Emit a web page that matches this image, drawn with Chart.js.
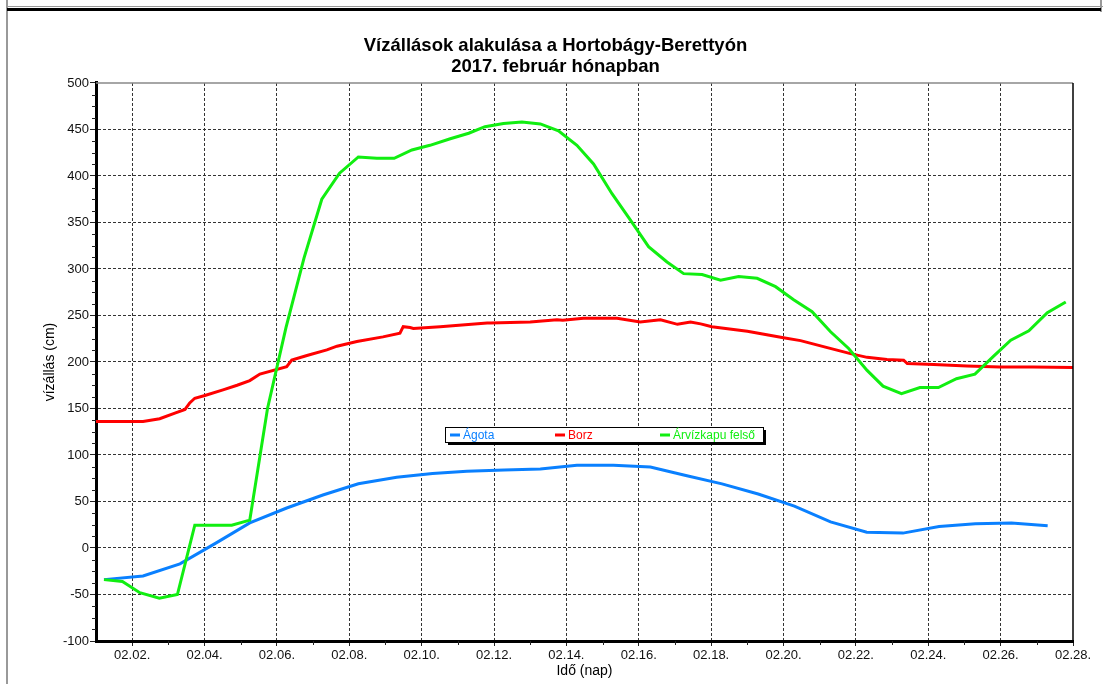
<!DOCTYPE html>
<html>
<head>
<meta charset="utf-8">
<title>Vízállások alakulása a Hortobágy-Berettyón</title>
<script src="https://cdn.jsdelivr.net/npm/chart.js@4.4.1/dist/chart.umd.min.js"></script>
<style>
  body { margin: 0; background: #fff; }
  #myChart { display: block; }
</style>
</head>
<body>
<canvas id="myChart" width="1103" height="684"></canvas>
<script>
// tick labels / axis values
const xTickDays = [2, 4, 6, 8, 10, 12, 14, 16, 18, 20, 22, 24, 26, 28];
const yTickValues = [-100, -50, 0, 50, 100, 150, 200, 250, 300, 350, 400, 450, 500];

const titleLines = ["Vízállások alakulása a Hortobágy-Berettyón", "2017. február hónapban"];

// Ágota (day of february, cm)
const agotaDays = [1.22, 2.3, 3.32, 4.3, 5.25, 6.27, 7.27, 8.25, 9.31, 10.3, 11.25, 12.28, 13.28, 14.29,
  15.3, 16.32, 17.3, 18.3, 19.3, 20.3, 21.3, 22.3, 23.3, 24.3, 25.3, 26.3, 27.3];
const agotaLevels = [-34, -30, -17, 5, 27, 43, 57, 69, 76, 80, 82.5, 84, 85, 89,
  89, 87, 78, 69, 58, 45, 28, 17, 16, 23, 26, 27, 24];

// Borz
const borzDays = [1.0, 2.3, 2.76, 3.18, 3.46, 3.59, 3.73, 4.01, 4.51, 4.9, 5.25, 5.53, 6.27, 6.41, 6.83,
  7.38, 7.66, 8.21, 8.93, 9.4, 9.49, 9.68, 9.77, 10.51, 11.81, 11.9, 13.0, 13.74, 13.9, 14.47,
  15.4, 16.04, 16.6, 17.07, 17.43, 17.71, 18.02, 19.0, 20.0, 20.47, 21.21, 21.85, 22.31, 22.86,
  23.32, 23.42, 24.15, 25.07, 25.98, 26.89, 28.0];
const borzLevels = [136, 136, 139, 145, 149, 156, 161, 164, 170, 175, 180, 187, 195, 202, 207,
  213, 217, 222, 227, 231, 238, 237, 236, 238, 242, 242, 243, 245.5, 245, 247,
  247, 243, 245.5, 240.5, 243, 241, 238, 233, 226, 223, 215.5, 209, 205, 202.6,
  202, 198.4, 197.3, 195.8, 194.7, 194.7, 194];

// Árvízkapu felső
const arvizDays = [1.22, 1.73, 2.21, 2.75, 3.25, 3.73, 4.25, 4.75, 5.25, 5.74, 6.25, 6.75, 7.24, 7.73,
  8.25, 8.76, 9.24, 9.73, 10.23, 10.79, 11.3, 11.75, 12.26, 12.77, 13.28, 13.78, 14.29, 14.75,
  15.26, 15.77, 16.27, 16.78, 17.24, 17.75, 18.26, 18.76, 19.27, 19.78, 20.28, 20.79, 21.3, 21.8,
  22.31, 22.75, 23.26, 23.77, 24.28, 24.78, 25.29, 25.8, 26.28, 26.78, 27.29, 27.8];
const arvizLevels = [-34, -36, -48, -54, -50, 24.5, 24.5, 24.5, 30, 150, 237, 312, 375, 403,
  420.5, 419, 419, 428, 433, 440, 446, 453, 456.5, 458, 456, 448.5, 433, 413,
  381, 352.5, 324, 307.5, 295, 294, 288, 292, 290, 281, 267, 254, 232.5, 214.5,
  191, 174, 166, 172.5, 172.5, 182, 187, 206, 223.5, 233.5, 253, 264.5];

const FONT = "'Liberation Sans', Arial, sans-serif";
Chart.defaults.font.family = FONT;
Chart.defaults.color = '#111';

function toPoints(days, levels) {
  return days.map((d, i) => ({ x: d, y: levels[i] }));
}

// white page, outer frame lines, plot border
const framePlugin = {
  id: 'frame',
  beforeDraw(chart) {
    const c = chart.ctx;
    c.save();
    c.fillStyle = '#fff';
    c.fillRect(0, 0, chart.width, chart.height);
    c.fillStyle = '#999';
    c.fillRect(6, 0, 2, chart.height);
    c.fillRect(7, 6, 1096, 1);
    c.fillRect(1100, 0, 2, 12);
    c.fillStyle = '#000';
    c.fillRect(7, 8, 1094, 3);
    c.restore();
  },
  afterDraw(chart) {
    const c = chart.ctx;
    const a = chart.chartArea;
    const x = chart.scales.x;
    const y = chart.scales.y;
    c.save();
    // top and right border
    c.lineWidth = 1.5;
    c.strokeStyle = '#888';
    c.beginPath(); c.moveTo(a.left, a.top); c.lineTo(a.right, a.top); c.stroke();
    c.strokeStyle = '#000';
    c.beginPath(); c.moveTo(a.right, a.top); c.lineTo(a.right, a.bottom); c.stroke();
    // minor ticks
    c.lineWidth = 1;
    c.strokeStyle = '#222';
    for (let v = -100; v <= 500; v += 12.5) {
      if (v % 50 === 0) continue;
      const py = Math.round(y.getPixelForValue(v)) + 0.5;
      c.beginPath(); c.moveTo(a.left - 4, py); c.lineTo(a.left, py); c.stroke();
    }
    for (let d = 3; d < 28; d += 2) {
      const px = Math.round(x.getPixelForValue(d)) + 0.5;
      c.beginPath(); c.moveTo(px, a.bottom); c.lineTo(px, a.bottom + 4); c.stroke();
    }
    c.restore();
  }
};

// legend box inside the plot
const legendPlugin = {
  id: 'boxLegend',
  afterDraw(chart) {
    const c = chart.ctx;
    const bx = 445, by = 427, bw = 318, bh = 15;
    c.save();
    c.fillStyle = '#000';
    c.fillRect(bx + 3, by + 3, bw, bh);
    c.fillStyle = '#fff';
    c.fillRect(bx, by, bw, bh);
    c.strokeStyle = '#000';
    c.lineWidth = 1;
    c.strokeRect(bx + 0.5, by + 0.5, bw, bh);
    const slots = [450, 555, 660];
    c.font = '12px ' + FONT;
    c.textBaseline = 'middle';
    chart.data.datasets.forEach((ds, i) => {
      const sx = slots[i];
      const cy = by + 8;
      c.strokeStyle = ds.borderColor;
      c.lineWidth = 3;
      c.beginPath(); c.moveTo(sx, cy); c.lineTo(sx + 10, cy); c.stroke();
      c.fillStyle = ds.borderColor;
      c.fillText(ds.label, sx + 13, cy + 1);
    });
    c.restore();
  }
};

const ctx = document.getElementById('myChart');

const myChart = new Chart(ctx, {
  type: 'line',
  data: {
    datasets: [
      { label: 'Ágota', data: toPoints(agotaDays, agotaLevels), borderColor: '#0a80ff', order: 3 },
      { label: 'Borz', data: toPoints(borzDays, borzLevels), borderColor: '#ff0000', order: 2 },
      { label: 'Árvízkapu felső', data: toPoints(arvizDays, arvizLevels), borderColor: '#11ee11', order: 1 }
    ]
  },
  options: {
    responsive: false,
    animation: false,
    elements: {
      line: { borderWidth: 3, tension: 0, fill: false },
      point: { radius: 0, hoverRadius: 0 }
    },
    layout: { padding: { left: 38, right: 30, top: 0, bottom: 0 } },
    plugins: {
      legend: { display: false },
      tooltip: { enabled: false },
      title: {
        display: true,
        text: titleLines,
        color: '#000',
        font: { size: 18.5, weight: 'bold', lineHeight: 1.135 },
        padding: { top: 35, bottom: 6 }
      }
    },
    scales: {
      x: {
        type: 'linear',
        min: 1,
        max: 28,
        afterBuildTicks: s => { s.ticks = xTickDays.map(v => ({ value: v })); },
        afterFit: s => { s.height = 43; },
        ticks: {
          autoSkip: false,
          maxRotation: 0,
          padding: 2,
          font: { size: 13 },
          callback: v => '02.' + String(v).padStart(2, '0') + '.'
        },
        grid: {
          color: c => (c.tick && c.tick.value === 28) ? 'rgba(0,0,0,0)' : '#333',
          tickColor: '#222',
          tickLength: 5,
          lineWidth: 1
        },
        border: { display: true, color: '#000', width: 3, dash: [3, 2] },
        title: { display: true, text: 'Idő (nap)', color: '#000', font: { size: 14 }, padding: { top: 0, bottom: 4 } }
      },
      y: {
        type: 'linear',
        min: -100,
        max: 500,
        afterBuildTicks: s => { s.ticks = yTickValues.map(v => ({ value: v })); },
        afterFit: s => { s.width = 58; },
        ticks: { autoSkip: false, padding: 1, font: { size: 13 } },
        grid: {
          color: c => (c.tick && (c.tick.value === 500 || c.tick.value === -100)) ? 'rgba(0,0,0,0)' : '#333',
          tickColor: '#222',
          tickLength: 6,
          lineWidth: 1
        },
        border: { display: true, color: '#000', width: 3, dash: [3, 2] },
        title: { display: true, text: 'vízállás (cm)', color: '#000', font: { size: 14 }, padding: { top: 4 } }
      }
    }
  },
  plugins: [framePlugin, legendPlugin]
});
</script>
</body>
</html>
